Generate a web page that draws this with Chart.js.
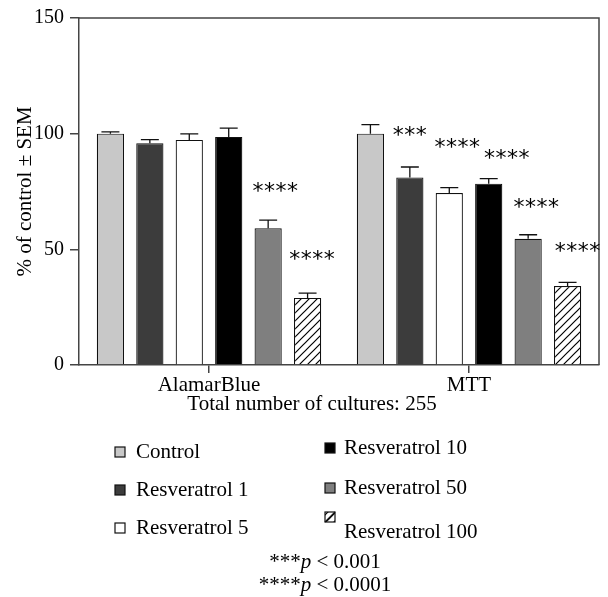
<!DOCTYPE html>
<html>
<head>
<meta charset="utf-8">
<script src="https://cdn.jsdelivr.net/npm/chart.js@4/dist/chart.umd.min.js"></script>
<style>
  html, body { margin: 0; padding: 0; background: #fff; }
  #wrap { width: 608px; height: 597px; position: relative; }
</style>
</head>
<body>
<div id="wrap"><canvas id="myCanvas"></canvas></div>
<script>
// values (% of control, mean and SEM)
const categories = ['AlamarBlue', 'MTT'];
const treatments = ['Control', 'Resveratrol 1', 'Resveratrol 5', 'Resveratrol 10', 'Resveratrol 50', 'Resveratrol 100'];
const alamarMeans = [100, 95.9, 97.3, 98.6, 59.1, 29.0];
const alamarSem = [0.8, 1.5, 2.6, 3.8, 3.5, 2.1];
const mttMeans = [100, 81.1, 74.3, 78.4, 54.6, 34.1];
const mttSem = [3.9, 4.5, 2.4, 2.2, 1.7, 1.6];
const yTicks = [0, 50, 100, 150];
// significance marks: [treatment index, category index, label]
const stars = [[4, 0, '****'], [5, 0, '****'], [1, 1, '***'], [2, 1, '****'], [3, 1, '****'], [4, 1, '****'], [5, 1, '****']];
const footnotes = [['***', 'p', ' < 0.001'], ['****', 'p', ' < 0.0001']];
const xTitle = 'Total number of cultures: 255';

const SERIF = '"Liberation Serif", "Times New Roman", serif';
const AXIS = '#444';

const CHART = document.getElementById('myCanvas').getContext('2d');

function hatch() {
    var c = document.createElement('canvas');
    c.width = 8; c.height = 8;
    var g = c.getContext('2d');
    g.fillStyle = '#fff';
    g.fillRect(0, 0, 8, 8);
    g.strokeStyle = '#000';
    g.lineWidth = 1.2;
    g.beginPath();
    g.moveTo(-1, 9); g.lineTo(9, -1);
    g.moveTo(-1, 1); g.lineTo(1, -1);
    g.moveTo(7, 9); g.lineTo(9, 7);
    g.stroke();
    return CHART.createPattern(c, 'repeat');
}

const fills = ['#c8c8c8', '#3c3c3c', '#ffffff', '#000000', '#7f7f7f', hatch()];

var datasets = treatments.map(function (name, i) {
    return {
        label: name,
        data: [alamarMeans[i], mttMeans[i]],
        sem: [alamarSem[i], mttSem[i]],
        backgroundColor: fills[i],
        borderColor: '#111',
        borderWidth: 1.2,
        categoryPercentage: 0.91,
        barPercentage: 0.69
    };
});

// star label placement, tuned by eye: [value level, x shift]
const starPlace = [[76.8, 7], [47.6, 4.5], [101.1, 0], [95.7, 8], [91, 18], [69.9, 8], [50.7, 10]];

var extras = {
    id: 'extras',
    afterDatasetsDraw: function (chart) {
        var ctx = chart.ctx, y = chart.scales.y, a = chart.chartArea;
        ctx.save();
        // error bars (upper only)
        ctx.strokeStyle = '#111';
        ctx.lineWidth = 1.3;
        chart.data.datasets.forEach(function (ds, di) {
            chart.getDatasetMeta(di).data.forEach(function (bar, j) {
                var top = y.getPixelForValue(ds.data[j] + ds.sem[j]);
                var half = bar.width * 0.33;
                ctx.beginPath();
                ctx.moveTo(bar.x, bar.y);
                ctx.lineTo(bar.x, top);
                ctx.moveTo(bar.x - half, top);
                ctx.lineTo(bar.x + half, top);
                ctx.stroke();
            });
        });
        // frame top and right
        ctx.strokeStyle = AXIS;
        ctx.lineWidth = 1.5;
        ctx.beginPath();
        ctx.moveTo(a.left, a.top);
        ctx.lineTo(a.right, a.top);
        ctx.lineTo(a.right, a.bottom);
        ctx.stroke();
        // significance stars
        ctx.fillStyle = '#000';
        ctx.font = '22px "DejaVu Sans"';
        ctx.textAlign = 'center';
        ctx.textBaseline = 'middle';
        stars.forEach(function (s, k) {
            var bar = chart.getDatasetMeta(s[0]).data[s[1]];
            var cx = bar.x + starPlace[k][1];
            var cy = y.getPixelForValue(starPlace[k][0]) + 5;
            var n = s[2].length, step = 11.5;
            for (var q = 0; q < n; q++) {
                ctx.fillText('*', cx + (q - (n - 1) / 2) * step, cy);
            }
        });
        ctx.restore();
    },
    afterDraw: function (chart) {
        var ctx = chart.ctx;
        ctx.save();
        ctx.font = '21px ' + SERIF;
        ctx.textBaseline = 'middle';
        ctx.fillStyle = '#000';
        // x axis title, centred on the page as in the figure
        ctx.textAlign = 'center';
        ctx.fillText(xTitle, 312, 404);
        // legend, two columns of three
        var cols = [{ sx: 115, tx: 136, rows: [452, 490, 528] }, { sx: 325, tx: 344, rows: [448, 488, 532] }];
        chart.data.datasets.forEach(function (ds, i) {
            var col = cols[Math.floor(i / 3)], ty = col.rows[i % 3];
            var sy = (i === 5) ? ty - 15 : ty;
            ctx.fillStyle = ds.backgroundColor;
            ctx.fillRect(col.sx, sy - 5, 10, 10);
            ctx.strokeStyle = '#111';
            ctx.lineWidth = 1.2;
            if (i === 5) {
                ctx.beginPath();
                ctx.moveTo(col.sx, sy + 5);
                ctx.lineTo(col.sx + 10, sy - 5);
                ctx.stroke();
            }
            ctx.strokeRect(col.sx, sy - 5, 10, 10);
            ctx.fillStyle = '#000';
            ctx.textAlign = 'left';
            ctx.fillText(ds.label, col.tx, ty);
        });
        // p-value footnotes
        var lines = [562, 585];
        footnotes.forEach(function (f, k) {
            var fonts = ['21px ' + SERIF, 'italic 21px ' + SERIF, '21px ' + SERIF];
            var w = 0;
            f.forEach(function (t, j) { ctx.font = fonts[j]; w += ctx.measureText(t).width; });
            var x = 325 - w / 2;
            f.forEach(function (t, j) {
                ctx.font = fonts[j];
                ctx.textAlign = 'left';
                ctx.fillText(t, x, lines[k]);
                x += ctx.measureText(t).width;
            });
        });
        ctx.restore();
    }
};

var configure = {
    type: 'bar',
    data: { labels: categories, datasets: datasets },
    plugins: [extras],
    options: {
        responsive: true,
        maintainAspectRatio: false,
        animation: false,
        layout: { padding: { left: 0, right: 9, top: 15, bottom: 174 } },
        plugins: {
            legend: { display: false },
            tooltip: { enabled: false }
        },
        scales: {
            x: {
                afterFit: function (s) { s.height = 58; },
                grid: { drawOnChartArea: false, offset: false, tickLength: 8, color: AXIS, lineWidth: 1.5 },
                border: { color: AXIS, width: 1.5 },
                ticks: { color: '#000', font: { family: SERIF, size: 21 }, padding: 0 }
            },
            y: {
                min: 0,
                max: 150,
                afterFit: function (s) { s.width = 79; },
                afterBuildTicks: function (s) { s.ticks = yTicks.map(function (v) { return { value: v }; }); },
                grid: { drawOnChartArea: false, tickLength: 9, color: AXIS, lineWidth: 1.5 },
                border: { color: AXIS, width: 1.5 },
                ticks: { color: '#000', font: { family: SERIF, size: 20 }, padding: 6 },
                title: {
                    display: true,
                    text: '% of control ± SEM',
                    color: '#000',
                    font: { family: SERIF, size: 21 },
                    padding: { top: 13, bottom: 0 }
                }
            }
        }
    }
};

window.barChart = new Chart(CHART, configure);
</script>
</body>
</html>
